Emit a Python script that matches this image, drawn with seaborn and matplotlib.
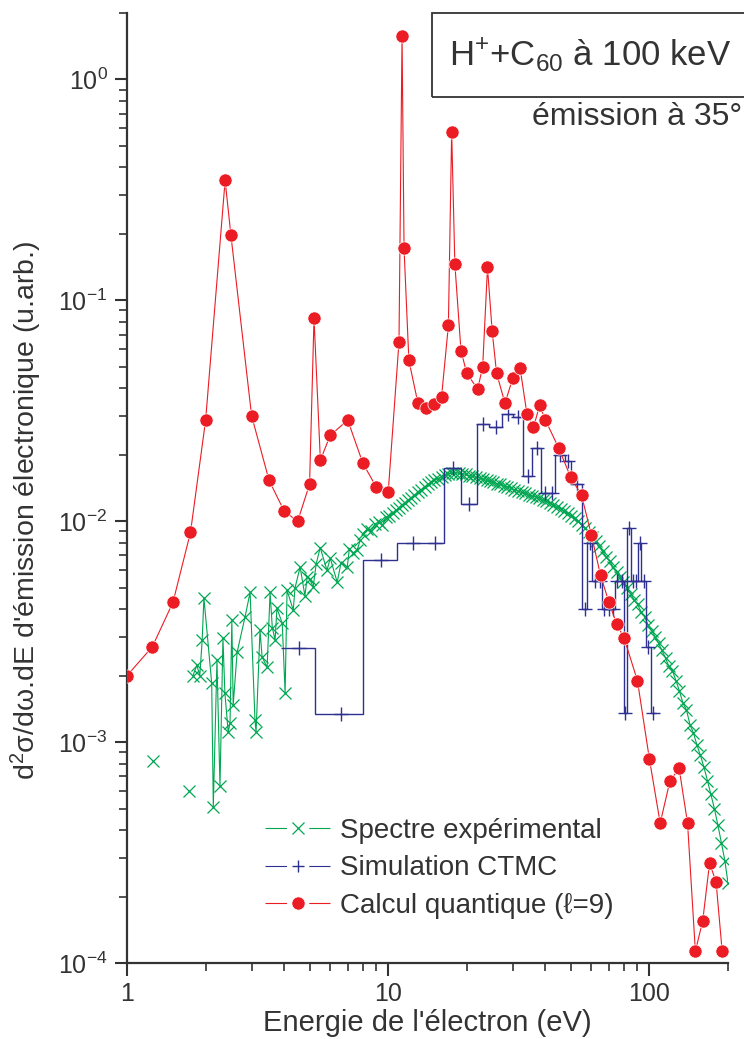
import matplotlib
matplotlib.use("Agg")
import matplotlib.pyplot as plt
import seaborn as sns
from matplotlib.lines import Line2D
from matplotlib.patches import Rectangle
from matplotlib.ticker import LogLocator, FixedLocator, FuncFormatter, NullFormatter

# Calcul quantique (l=9)
quant_x = [1.0, 1.25, 1.5, 1.75, 2.0, 2.375, 2.5, 3.0, 3.5, 4.0,
           4.5, 5.0, 5.2, 5.5, 6.0, 7.0, 8.0, 9.0, 10.0, 11.0,
           11.3, 11.5, 12.0, 13.0, 14.0, 15.0, 16.0, 17.0, 17.5, 18.0,
           19.0, 20.0, 22.0, 23.0, 24.0, 25.0, 26.0, 28.0, 30.0, 32.0,
           34.0, 36.0, 38.0, 40.0, 45.0, 50.0, 55.0, 60.0, 65.0, 70.0,
           75.0, 80.0, 90.0, 100.0, 110.0, 120.0, 130.0, 140.0, 150.0, 160.0,
           170.0, 180.0, 190.0]
quant_y = [0.0020, 0.0027, 0.0043, 0.0089, 0.0287, 0.349, 0.197, 0.030, 0.0153, 0.0111,
           0.0100, 0.0147, 0.083, 0.0189, 0.0245, 0.0287, 0.0183, 0.0143, 0.0135, 0.065,
           1.58, 0.172, 0.0535, 0.0342, 0.0325, 0.034, 0.0364, 0.077, 0.58, 0.146,
           0.059, 0.0468, 0.0396, 0.050, 0.141, 0.073, 0.0468, 0.0342, 0.0445, 0.0492,
           0.0305, 0.0266, 0.0335, 0.0287, 0.0214, 0.0158, 0.0131, 0.00866, 0.0057, 0.0043,
           0.00342, 0.00296, 0.0019, 0.00084, 0.00043, 0.00067, 0.00076, 0.00043, 0.000113, 0.000155,
           0.000283, 0.000233, 0.000113]

# Simulation CTMC (histogramme : bornes des canaux et valeurs)
ctmc_edges = [3.9, 5.25, 8.0, 10.8, 14.0, 16.3, 19.0, 21.9, 24.4, 27.3,
              30.1, 32.9, 35.6, 38.6, 41.0, 43.6, 47.6, 50.1, 55.4, 57.6,
              60.5, 63.3, 66.0, 68.5, 71.0, 73.9, 77.0, 79.9, 81.8, 85.0,
              88.0, 90.5, 93.0, 97.0, 101.0, 106.0]
ctmc_vals = [0.00266, 0.00134, 0.00667, 0.0080, 0.0080, 0.0174, 0.0120, 0.0277, 0.0266, 0.0305,
             0.0295, 0.0160, 0.0214, 0.0134, 0.0134, 0.0199, 0.0188, 0.0147, 0.0040, 0.00795,
             0.00535, 0.00535, 0.0040, 0.0040, 0.0040, 0.00535, 0.00535, 0.00135, 0.0093, 0.00535,
             0.00535, 0.00795, 0.00535, 0.00269, 0.00135]

# Spectre experimental, basse energie (bruite)
exp_lo_x = [1.26, 1.73, 1.79, 1.85, 1.90, 1.94, 1.97, 2.11, 2.14, 2.21,
            2.27, 2.33, 2.37, 2.44, 2.48, 2.52, 2.55, 2.64, 2.83, 2.96,
            3.09, 3.12, 3.23, 3.29, 3.44, 3.53, 3.60, 3.69, 3.75, 3.93,
            4.03, 4.10, 4.33, 4.40, 4.60, 4.80, 4.90, 5.00, 5.16, 5.30,
            5.49, 5.83, 6.00, 6.38, 6.60, 6.97, 7.10, 7.35, 7.60, 7.82]
exp_lo_y = [8.2e-4, 6.0e-4, 2.0e-3, 2.23e-3, 2.0e-3, 2.9e-3, 4.5e-3, 1.85e-3, 5.1e-4, 2.35e-3,
            6.3e-4, 2.96e-3, 1.67e-3, 1.11e-3, 1.22e-3, 3.57e-3, 1.47e-3, 2.55e-3, 3.68e-3, 4.77e-3,
            1.26e-3, 1.11e-3, 3.21e-3, 2.43e-3, 2.18e-3, 4.77e-3, 3.3e-3, 2.9e-3, 4.04e-3, 3.45e-3,
            1.67e-3, 4.87e-3, 3.96e-3, 5.0e-3, 6.2e-3, 4.6e-3, 5.6e-3, 5.5e-3, 5.03e-3, 6.4e-3,
            7.6e-3, 6.0e-3, 6.8e-3, 5.3e-3, 6.5e-3, 6.2e-3, 7.5e-3, 7.2e-3, 7.4e-3, 8.2e-3]

# Spectre experimental, partie lisse
exp_hi_x = [8.0, 8.3, 8.6, 8.9, 9.2, 9.5, 9.8, 10.1, 10.4, 10.7,
            11.0, 11.3, 11.6, 11.9, 12.2, 12.6, 13.0, 13.4, 13.8, 14.2,
            14.6, 15.0, 15.5, 16.0, 16.5, 17.0, 17.5, 18.0, 18.6, 19.2,
            19.8, 20.4, 21.0, 21.7, 22.4, 23.1, 23.8, 24.5, 25.3, 26.1,
            26.9, 27.7, 28.6, 29.5, 30.4, 31.4, 32.4, 33.4, 34.5, 35.6,
            36.7, 37.9, 39.1, 40.3, 41.6, 42.9, 44.3, 45.7, 47.1, 48.6,
            50.1, 51.7, 53.3, 55.0, 56.7, 58.5, 60.3, 62.2, 64.2, 66.2,
            68.3, 70.4, 72.6, 74.9, 77.2, 79.6, 82.1, 84.7, 87.4, 90.1,
            92.9, 95.8, 98.8, 101.9, 105.1, 108.4, 111.8, 115.3, 118.9, 122.6,
            126.4, 130.4, 134.5, 138.7, 143.0, 147.5, 152.1, 156.9, 161.8, 166.8,
            172.0, 177.4, 183.0, 188.7, 194.6, 200.0]
exp_hi_y = [0.0088, 0.0092, 0.0090, 0.0097, 0.0099, 0.0096, 0.0104, 0.0106, 0.0109, 0.0112,
            0.0115, 0.0119, 0.0121, 0.0125, 0.0127, 0.0131, 0.0135, 0.0139, 0.0143, 0.0147,
            0.0150, 0.0153, 0.0156, 0.0159, 0.0162, 0.0164, 0.0165, 0.0166, 0.0165, 0.0164,
            0.0163, 0.0161, 0.0160, 0.0158, 0.0157, 0.0155, 0.0153, 0.0152, 0.0150, 0.0148,
            0.0147, 0.0145, 0.0143, 0.0141, 0.0139, 0.0137, 0.0135, 0.0134, 0.0132, 0.0130,
            0.0129, 0.0127, 0.0125, 0.0123, 0.0121, 0.0119, 0.0116, 0.0114, 0.0111, 0.0109,
            0.0106, 0.0103, 0.0100, 0.0096, 0.0093, 0.0089, 0.0085, 0.0081, 0.0077, 0.0073,
            0.0069, 0.0066, 0.0062, 0.0059, 0.0056, 0.0053, 0.0050, 0.0047, 0.0044, 0.0042,
            0.0039, 0.0037, 0.0034, 0.0032, 0.0030, 0.0028, 0.0026, 0.0024, 0.0022, 0.0021,
            0.0019, 0.0017, 0.0015, 0.0014, 0.0012, 0.0011, 0.00097, 0.00087, 0.00077, 0.00067,
            0.00058, 0.00050, 0.00042, 0.00035, 0.00029, 0.00023]

labels = ["Spectre expérimental", "Simulation CTMC", "Calcul quantique (ℓ=9)"]

RED = "#ec1c24"
GREEN = "#00a651"
BLUE = "#2e3192"
GREY = "#333333"

sns.set_style("ticks")
plt.rcParams["font.family"] = ["Liberation Sans", "DejaVu Sans"]
plt.rcParams["mathtext.fontset"] = "custom"
plt.rcParams["mathtext.rm"] = "Liberation Sans"
plt.rcParams["mathtext.it"] = "Liberation Sans:italic"
plt.rcParams["mathtext.bf"] = "Liberation Sans:bold"
plt.rcParams["text.color"] = GREY
plt.rcParams["axes.labelcolor"] = GREY
plt.rcParams["xtick.color"] = GREY
plt.rcParams["ytick.color"] = GREY

fig = plt.figure(figsize=(7.44, 10.39), dpi=100)
ax = fig.add_axes([127 / 744, 76 / 1039, 601 / 744, 950 / 1039])
ax.set_xscale("log")
ax.set_yscale("log")

# spectre experimental
sns.lineplot(x=exp_lo_x[:2], y=exp_lo_y[:2], ax=ax, color=GREEN, linestyle="none",
             marker="x", markersize=9, markeredgewidth=0.9, markeredgecolor=GREEN, zorder=2)
sns.lineplot(x=exp_lo_x[2:], y=exp_lo_y[2:], ax=ax, color=GREEN, lw=0.8, estimator=None,
             marker="x", markersize=9, markeredgewidth=0.9, markeredgecolor=GREEN, zorder=2)
sns.lineplot(x=exp_hi_x, y=exp_hi_y, ax=ax, color=GREEN, lw=0.8, estimator=None,
             marker="x", markersize=9, markeredgewidth=0.9, markeredgecolor=GREEN, zorder=2)

# simulation CTMC
ax.stairs(ctmc_vals, ctmc_edges, baseline=None, color=BLUE, lw=1.0, zorder=3)
ctmc_centers = [(a + b) / 2 for a, b in zip(ctmc_edges[:-1], ctmc_edges[1:])]
sns.lineplot(x=ctmc_centers, y=ctmc_vals, ax=ax, color=BLUE, linestyle="none", estimator=None,
             marker="+", markersize=10, markeredgewidth=1.0, markeredgecolor=BLUE, zorder=3)

# calcul quantique
sns.lineplot(x=quant_x, y=quant_y, ax=ax, color=RED, lw=0.8, estimator=None, sort=False,
             marker="o", markersize=9.5, markeredgecolor="white", markeredgewidth=0.5, zorder=4)

ax.set_xlim(1, 200)
ax.set_ylim(1e-4, 2)

ax.xaxis.set_major_locator(FixedLocator([1, 10, 100]))
ax.xaxis.set_major_formatter(FuncFormatter(lambda v, p: f"{v:g}"))
ax.xaxis.set_minor_locator(LogLocator(base=10, subs=range(2, 10), numticks=20))
ax.xaxis.set_minor_formatter(NullFormatter())
ax.yaxis.set_major_locator(LogLocator(base=10, numticks=12))
ax.yaxis.set_minor_locator(LogLocator(base=10, subs=range(2, 10), numticks=12))
ax.yaxis.set_minor_formatter(NullFormatter())

sns.despine(ax=ax)
for s in ["left", "bottom"]:
    ax.spines[s].set_linewidth(1.6)
    ax.spines[s].set_color(GREY)
ax.tick_params(which="major", direction="out", length=9, width=1.5, labelsize=18, pad=5)
ax.tick_params(which="minor", direction="out", length=6, width=1.2)

ax.set_xlabel("Energie de l'électron (eV)", fontsize=21)
ax.set_ylabel("d$^2$σ/dω.dE d'émission électronique (u.arb.)", fontsize=20.5)
ax.xaxis.set_label_coords(0.5, -0.048)
ax.yaxis.set_label_coords(-0.138, 0.476)

# legende
gap_lw = 0.8
handles = [
    Line2D([], [], color=GREEN, lw=gap_lw, marker="x", markersize=9, markeredgewidth=0.9,
           linestyle=(0, (15.5 / gap_lw, 16 / gap_lw))),
    Line2D([], [], color=BLUE, lw=gap_lw, marker="+", markersize=9, markeredgewidth=1.0,
           linestyle=(0, (15.5 / gap_lw, 16 / gap_lw))),
    Line2D([], [], color=RED, lw=gap_lw, marker="o", markersize=9.5, markeredgecolor="white",
           markeredgewidth=0.5, linestyle=(0, (15.5 / gap_lw, 16 / gap_lw))),
]
ax.legend(handles, labels, loc="upper left", bbox_to_anchor=(0.2296, 0.153), frameon=False,
          fontsize=20, handlelength=2.35, handletextpad=0.35, labelspacing=0.42,
          borderpad=0, borderaxespad=0, numpoints=1)

# encadre titre
fig.add_artist(Rectangle((432 / 744, 1 - 97 / 1039), 340 / 744, 84 / 1039,
                         transform=fig.transFigure, fill=False, ec=GREY, lw=1.3, clip_on=False))
fig.text(590 / 744, 1 - 55 / 1039, "H$^{+}$+C$_{60}$ à 100 keV", fontsize=25,
         ha="center", va="center")
fig.text(742 / 744, 1 - 117 / 1039, "émission à 35°", fontsize=23, ha="right", va="center")

fig.savefig("out.png", dpi=100)
